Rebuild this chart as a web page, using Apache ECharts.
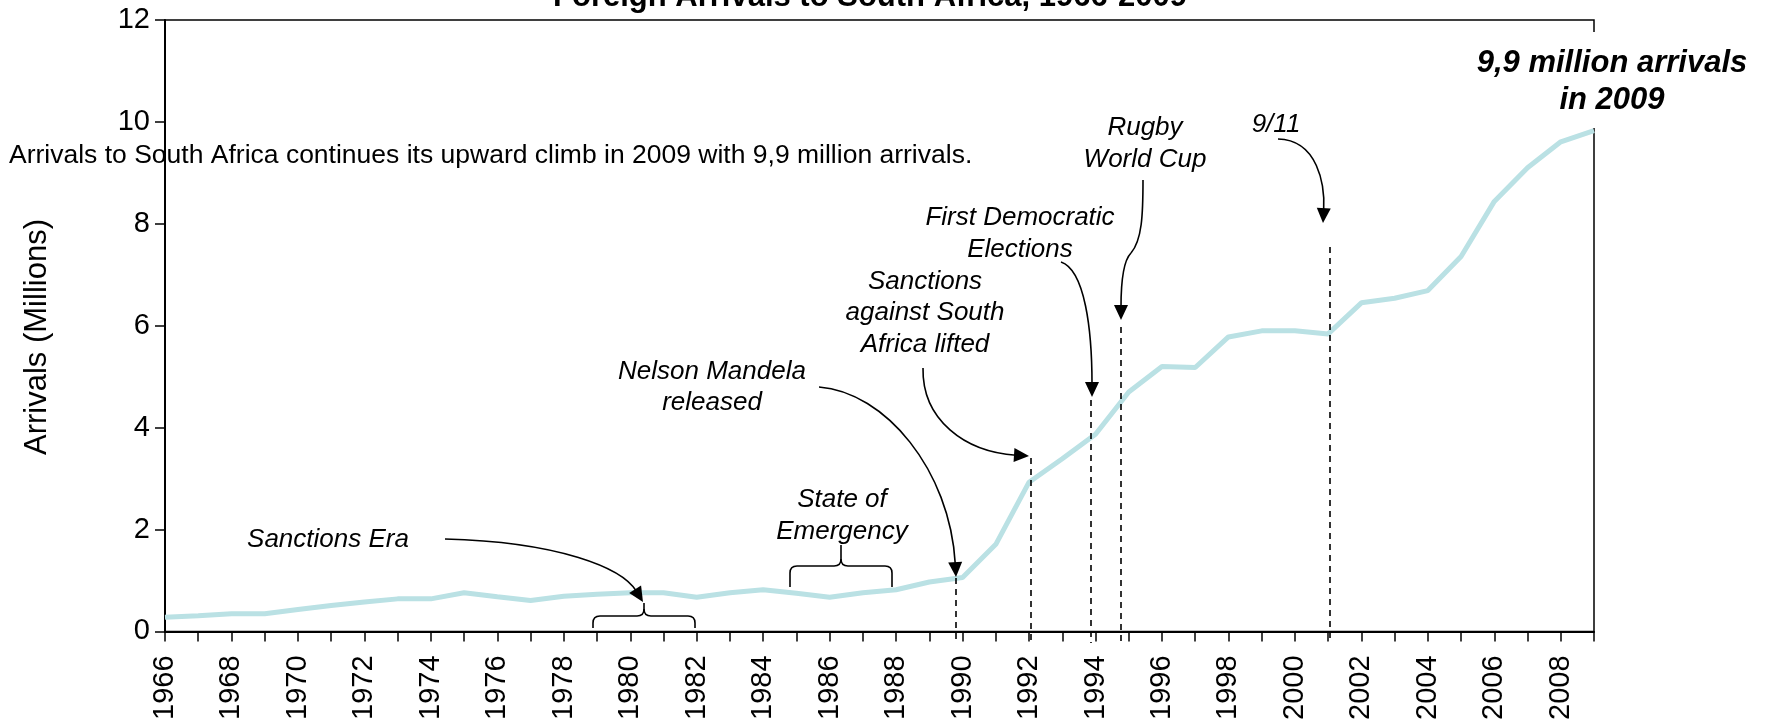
<!DOCTYPE html>
<html>
<head>
<meta charset="utf-8">
<script src="https://cdn.jsdelivr.net/npm/echarts@6/dist/echarts.min.js"></script>
<style>
  html, body { margin: 0; padding: 0; background: #fff; }
  #chart { width: 1772px; height: 723px; }
</style>
</head>
<body>
<div id="chart"></div>
<script>
// Foreign arrivals to South Africa, millions
const years = [1966, 1967, 1968, 1969, 1970, 1971, 1972, 1973, 1974, 1975,
    1976, 1977, 1978, 1979, 1980, 1981, 1982, 1983, 1984, 1985,
    1986, 1987, 1988, 1989, 1990, 1991, 1992, 1993, 1994, 1995,
    1996, 1997, 1998, 1999, 2000, 2001, 2002, 2003, 2004, 2005,
    2006, 2007, 2008, 2009];
const arrivals = [0.28, 0.31, 0.35, 0.35, 0.43, 0.51, 0.58, 0.64, 0.64, 0.76,
    0.68, 0.61, 0.69, 0.73, 0.76, 0.76, 0.67, 0.76, 0.82, 0.75,
    0.67, 0.76, 0.82, 0.97, 1.06, 1.71, 2.93, 3.39, 3.87, 4.70,
    5.20, 5.18, 5.78, 5.90, 5.90, 5.84, 6.45, 6.54, 6.69, 7.36,
    8.44, 9.10, 9.61, 9.83];
const yTicks = [0, 2, 4, 6, 8, 10, 12];

const FONT = '"Liberation Sans", Arial, sans-serif';
const INK = '#000';

const chart = echarts.init(document.getElementById('chart'));

// text helper
function label(x, y, text, opts) {
    opts = opts || {};
    return {
        type: 'text', x: x, y: y, z: 20,
        style: {
            text: text,
            fill: INK,
            font: (opts.style || 'italic') + ' ' + (opts.size || 26) + 'px ' + FONT,
            align: opts.align || 'center',
            verticalAlign: 'middle'
        }
    };
}

// curved arrow: cubic bezier + filled head at the end
function arrow(p0, c1, c2, p3) {
    const dx = p3[0] - c2[0], dy = p3[1] - c2[1];
    const len = Math.sqrt(dx * dx + dy * dy) || 1;
    const ux = dx / len, uy = dy / len;
    const hl = 15, hw = 7;
    const bx = p3[0] - ux * hl, by = p3[1] - uy * hl;
    return [
        {
            type: 'bezierCurve', z: 20,
            shape: { x1: p0[0], y1: p0[1], cpx1: c1[0], cpy1: c1[1], cpx2: c2[0], cpy2: c2[1], x2: bx + ux * 2, y2: by + uy * 2 },
            style: { stroke: INK, lineWidth: 1.6, fill: null }
        },
        {
            type: 'polygon', z: 20,
            shape: { points: [[p3[0], p3[1]], [bx - uy * hw, by + ux * hw], [bx + uy * hw, by - ux * hw]] },
            style: { fill: INK }
        }
    ];
}

function curve(p0, c1, c2, p3) {
    return {
        type: 'bezierCurve', z: 20,
        shape: { x1: p0[0], y1: p0[1], cpx1: c1[0], cpy1: c1[1], cpx2: c2[0], cpy2: c2[1], x2: p3[0], y2: p3[1] },
        style: { stroke: INK, lineWidth: 1.6, fill: null }
    };
}

function dashed(x, top, bottom) {
    return {
        type: 'line', z: 20,
        shape: { x1: x, y1: top, x2: x, y2: bottom },
        style: { stroke: INK, lineWidth: 1.6, lineDash: [6, 5] }
    };
}

// horizontal curly brace, ends pointing down, middle tip up
function brace(xL, xR, yMid, yEnd, yTip, r) {
    const xC = (xL + xR) / 2;
    const st = { stroke: INK, lineWidth: 1.6, fill: null };
    const q = (x1, y1, cx, cy, x2, y2) => ({
        type: 'bezierCurve', z: 20,
        shape: { x1: x1, y1: y1, cpx1: cx, cpy1: cy, x2: x2, y2: y2 }, style: st
    });
    const ln = (x1, y1, x2, y2) => ({ type: 'line', z: 20, shape: { x1: x1, y1: y1, x2: x2, y2: y2 }, style: st });
    return [
        ln(xL, yEnd, xL, yMid + r),
        q(xL, yMid + r, xL, yMid, xL + r, yMid),
        ln(xL + r, yMid, xC - r, yMid),
        q(xC - r, yMid, xC, yMid, xC, yMid - r),
        ln(xC, yMid - r, xC, yTip),
        q(xC + r, yMid, xC, yMid, xC, yMid - r),
        ln(xC + r, yMid, xR - r, yMid),
        q(xR - r, yMid, xR, yMid, xR, yMid + r),
        ln(xR, yMid + r, xR, yEnd)
    ];
}

const graphics = [].concat(
    [
        label(870, -3, 'Foreign Arrivals to South Africa, 1966-2009', { style: 'bold', size: 31 }),
        { type: 'text', x: 37, y: 337, rotation: Math.PI / 2, z: 20,
          style: { text: 'Arrivals (Millions)', fill: INK, font: '31px ' + FONT, align: 'center', verticalAlign: 'middle' } },
        label(9, 156, 'Arrivals to South Africa continues its upward climb in 2009 with 9,9 million arrivals.', { style: 'normal', size: 26.5, align: 'left' }),
        { type: 'rect', z: 19, shape: { x: 1466, y: 32, width: 296, height: 96 }, style: { fill: '#fff' } },
        label(1612, 63, '9,9 million arrivals', { style: 'italic bold', size: 31 }),
        label(1612, 100, 'in 2009', { style: 'italic bold', size: 31 }),
        label(328, 540, 'Sanctions Era'),
        label(842, 500, 'State of'),
        label(842, 532, 'Emergency'),
        label(712, 372, 'Nelson Mandela'),
        label(712, 403, 'released'),
        label(925, 282, 'Sanctions'),
        label(925, 313, 'against South'),
        label(925, 345, 'Africa lifted'),
        label(1020, 218, 'First Democratic'),
        label(1020, 250, 'Elections'),
        label(1145, 128, 'Rugby'),
        label(1145, 160, 'World Cup'),
        label(1276, 125, '9/11'),
        dashed(956, 578, 643),
        dashed(1031, 458, 643),
        dashed(1091, 400, 643),
        dashed(1121, 327, 643),
        dashed(1330, 247, 643),
        curve([1143, 180], [1143, 215], [1142, 240], [1131, 253])
    ],
    arrow([445, 539], [560, 542], [622, 568], [643, 602]),
    arrow([819, 387], [885, 392], [950, 470], [956, 577]),
    arrow([923, 368], [922, 420], [965, 452], [1029, 456]),
    arrow([1061, 262], [1085, 270], [1092, 330], [1092, 397]),
    arrow([1131, 253], [1122, 262], [1121, 290], [1121, 320]),
    arrow([1278, 139], [1318, 140], [1325, 185], [1323, 223]),
    brace(593, 695, 616, 628, 603, 7),
    brace(790, 892, 566, 587, 545, 7)
);

chart.setOption({
    animation: false,
    backgroundColor: '#fff',
    textStyle: { fontFamily: FONT },
    grid: {
        left: 165, right: 178, top: 20, bottom: 91,
        show: true, borderColor: INK, borderWidth: 1.5
    },
    xAxis: {
        type: 'value',
        min: years[0], max: years[years.length - 1], interval: 1,
        axisLine: { lineStyle: { color: INK, width: 2 } },
        axisTick: { show: true, length: 10, lineStyle: { color: INK, width: 1.5 } },
        axisLabel: {
            rotate: 90, margin: 24, color: INK, fontSize: 29, fontFamily: FONT,
            formatter: v => (v % 2 === 0 ? String(v) : '')
        },
        splitLine: { show: false }
    },
    yAxis: {
        type: 'value',
        min: yTicks[0], max: yTicks[yTicks.length - 1], interval: 2,
        axisLine: { show: true, lineStyle: { color: INK, width: 2 } },
        axisTick: { show: true, length: 10, lineStyle: { color: INK, width: 1.5 } },
        axisLabel: { margin: 15, color: INK, fontSize: 29, fontFamily: FONT },
        splitLine: { show: false }
    },
    series: [{
        type: 'line',
        data: years.map((y, i) => [y, arrivals[i]]),
        symbol: 'none',
        lineStyle: { color: '#BAE1E4', width: 5 },
        z: 2
    }],
    graphic: graphics
});
</script>
</body>
</html>
